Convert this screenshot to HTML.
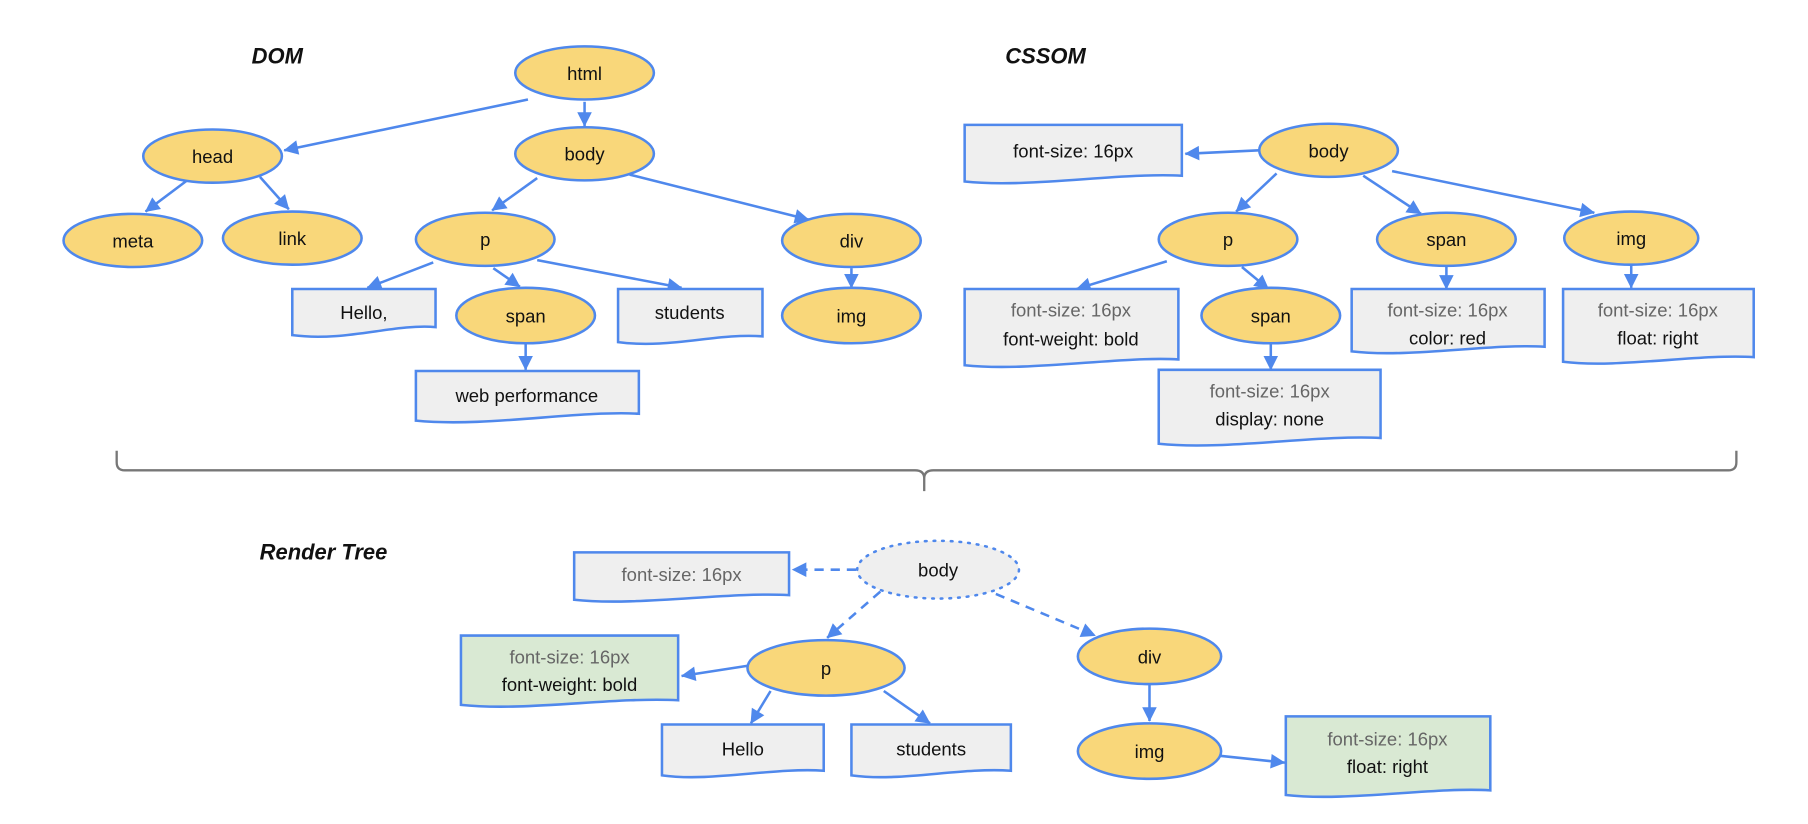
<!DOCTYPE html>
<html><head><meta charset="utf-8"><style>
html,body{margin:0;padding:0;background:#fff;}
svg{display:block;}
text{font-family:"Liberation Sans",Arial,sans-serif;font-size:16px;fill:#111;text-anchor:middle;}
.g{fill:#666;}
.t{font-weight:bold;font-style:italic;font-size:19px;}
.e{fill:#f9d77a;stroke:#4f88ec;stroke-width:2.2;}
.d{fill:#efefef;stroke:#4f88ec;stroke-width:2.2;}
.dg{fill:#d9e9d3;stroke:#4f88ec;stroke-width:2.2;}
.l{stroke:#4f88ec;stroke-width:2.2;fill:none;}
.ds{stroke-dasharray:8 6;}
</style></head><body>
<svg width="1808" height="824" viewBox="0 0 1565 713" xmlns="http://www.w3.org/2000/svg">
<defs><marker id="a" viewBox="0 0 10 10" refX="9" refY="5" markerWidth="7" markerHeight="7" orient="auto" markerUnits="userSpaceOnUse" style="overflow:visible"><path d="M0,0 L10,5 L0,10 Z" fill="#4f88ec" transform="scale(1.8) translate(-4.5,-2.2)"/></marker></defs>

<text class="t" x="240" y="55">DOM</text>
<text class="t" x="905" y="55">CSSOM</text>
<text class="t" x="280" y="484">Render Tree</text>

<g class="l" marker-end="url(#a)">
<line x1="457" y1="86" x2="246" y2="130"/>
<line x1="506" y1="88" x2="506" y2="109"/>
<line x1="162" y1="156" x2="126" y2="183"/>
<line x1="225" y1="153" x2="250" y2="181"/>
<line x1="465" y1="154" x2="426" y2="182"/>
<line x1="545" y1="151" x2="700" y2="190"/>
<line x1="375" y1="227" x2="318" y2="249"/>
<line x1="427" y1="232" x2="450" y2="248"/>
<line x1="465" y1="225" x2="590" y2="249"/>
<line x1="455" y1="297" x2="455" y2="320"/>
<line x1="737" y1="232" x2="737" y2="249"/>
</g>
<g>
<ellipse class="e" cx="506" cy="63" rx="60" ry="23"/><text x="506" y="69">html</text>
<ellipse class="e" cx="184" cy="135" rx="60" ry="23"/><text x="184" y="141">head</text>
<ellipse class="e" cx="506" cy="133" rx="60" ry="23"/><text x="506" y="139">body</text>
<ellipse class="e" cx="115" cy="208" rx="60" ry="23"/><text x="115" y="214">meta</text>
<ellipse class="e" cx="253" cy="206" rx="60" ry="23"/><text x="253" y="212">link</text>
<ellipse class="e" cx="420" cy="207" rx="60" ry="23"/><text x="420" y="213">p</text>
<ellipse class="e" cx="737" cy="208" rx="60" ry="23"/><text x="737" y="214">div</text>
<ellipse class="e" cx="455" cy="273" rx="60" ry="24"/><text x="455" y="279">span</text>
<ellipse class="e" cx="737" cy="273" rx="60" ry="24"/><text x="737" y="279">img</text>
</g>
<path class="d" d="M253,250 H377 V283 C340,280 300,296 253,290 Z"/><text x="315" y="276">Hello,</text>
<path class="d" d="M535,250 H660 V291 C620,288 580,302 535,296 Z"/><text x="597" y="276">students</text>
<path class="d" d="M360,321 H553 V358 C500,355 420,370 360,364 Z"/><text x="456" y="348">web performance</text>

<g class="l" marker-end="url(#a)">
<line x1="1090" y1="130" x2="1026" y2="133"/>
<line x1="1105" y1="150" x2="1070" y2="183"/>
<line x1="1180" y1="152" x2="1230" y2="185"/>
<line x1="1205" y1="148" x2="1380" y2="184"/>
<line x1="1010" y1="226" x2="932" y2="250"/>
<line x1="1075" y1="231" x2="1098" y2="250"/>
<line x1="1100" y1="297" x2="1100" y2="320"/>
<line x1="1252" y1="231" x2="1252" y2="250"/>
<line x1="1412" y1="229" x2="1412" y2="249"/>
</g>
<path class="d" d="M835,108 H1023 V152 C970,149 890,163 835,157 Z"/><text x="929" y="136">font-size: 16px</text>
<ellipse class="e" cx="1150" cy="130" rx="60" ry="23"/><text x="1150" y="136">body</text>
<ellipse class="e" cx="1063" cy="207" rx="60" ry="23"/><text x="1063" y="213">p</text>
<ellipse class="e" cx="1252" cy="207" rx="60" ry="23"/><text x="1252" y="213">span</text>
<ellipse class="e" cx="1412" cy="206" rx="58" ry="23"/><text x="1412" y="212">img</text>
<ellipse class="e" cx="1100" cy="273" rx="60" ry="24"/><text x="1100" y="279">span</text>
<path class="d" d="M835,250 H1020 V311 C970,308 890,322 835,316 Z"/><text class="g" x="927" y="274">font-size: 16px</text><text x="927" y="299">font-weight: bold</text>
<path class="d" d="M1003,320 H1195 V379 C1140,376 1060,390 1003,384 Z"/><text class="g" x="1099" y="344">font-size: 16px</text><text x="1099" y="368">display: none</text>
<path class="d" d="M1170,250 H1337 V300 C1290,297 1220,310 1170,304 Z"/><text class="g" x="1253" y="274">font-size: 16px</text><text x="1253" y="298">color: red</text>
<path class="d" d="M1353,250 H1518 V309 C1470,306 1400,319 1353,313 Z"/><text class="g" x="1435" y="274">font-size: 16px</text><text x="1435" y="298">float: right</text>

<path d="M101,390 V400 Q101,407 108,407 H792 Q800,407 800,414 V425 M800,414 Q800,407 808,407 H1496 Q1503,407 1503,400 V390" fill="none" stroke="#777" stroke-width="2"/>

<g class="l ds" marker-end="url(#a)">
<line x1="741" y1="493" x2="686" y2="493"/>
<line x1="762" y1="512" x2="716" y2="552"/>
<line x1="862" y1="514" x2="948" y2="550"/>
</g>
<g class="l" marker-end="url(#a)">
<line x1="648" y1="576" x2="590" y2="585"/>
<line x1="667" y1="598" x2="650" y2="626"/>
<line x1="765" y1="598" x2="805" y2="626"/>
<line x1="995" y1="592" x2="995" y2="624"/>
<line x1="1055" y1="654" x2="1112" y2="660"/>
</g>
<ellipse cx="812" cy="493" rx="70" ry="25" fill="#efefef" stroke="#4f88ec" stroke-width="2.2" stroke-dasharray="1.5 6" stroke-linecap="round"/><text x="812" y="499">body</text>
<path class="d" d="M497,478 H683 V515 C630,512 550,525 497,519 Z"/><text class="g" x="590" y="503">font-size: 16px</text>
<ellipse class="e" cx="715" cy="578" rx="68" ry="24"/><text x="715" y="584">p</text>
<ellipse class="e" cx="995" cy="568" rx="62" ry="24"/><text x="995" y="574">div</text>
<ellipse class="e" cx="995" cy="650" rx="62" ry="24"/><text x="995" y="656">img</text>
<path class="dg" d="M399,550 H587 V606 C530,603 455,616 399,610 Z"/><text class="g" x="493" y="574">font-size: 16px</text><text x="493" y="598">font-weight: bold</text>
<path class="d" d="M573,627 H713 V667 C670,664 615,677 573,671 Z"/><text x="643" y="654">Hello</text>
<path class="d" d="M737,627 H875 V667 C830,664 780,677 737,671 Z"/><text x="806" y="654">students</text>
<path class="dg" d="M1113,620 H1290 V684 C1240,681 1165,694 1113,688 Z"/><text class="g" x="1201" y="645">font-size: 16px</text><text x="1201" y="669">float: right</text>
</svg>
</body></html>
